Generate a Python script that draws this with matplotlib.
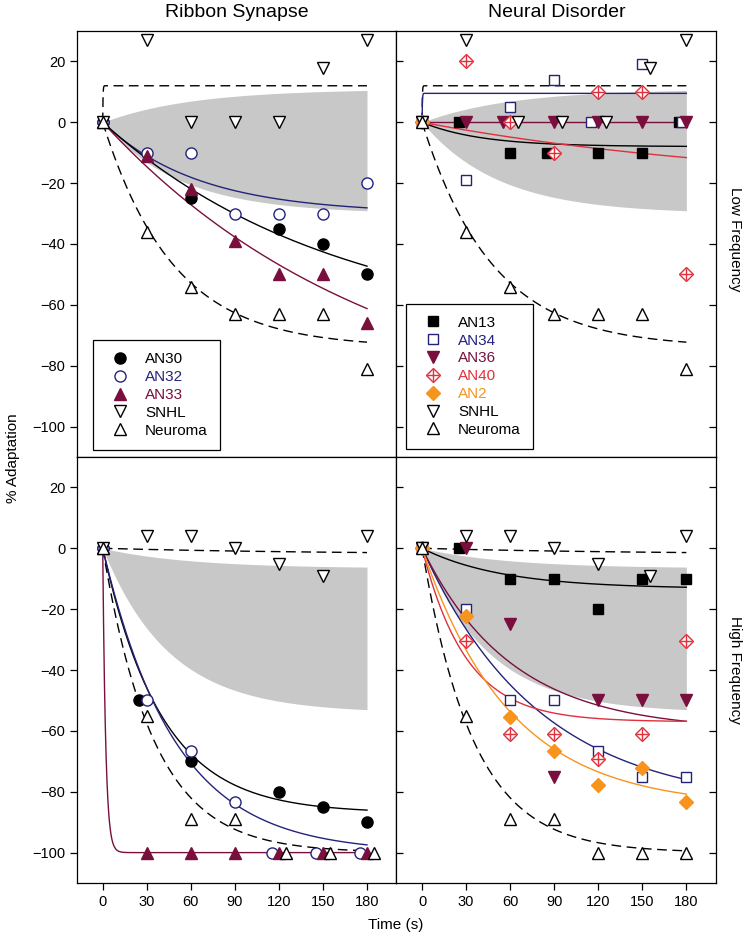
import numpy as np
import matplotlib
matplotlib.use("Agg")
import matplotlib.pyplot as plt
from matplotlib.legend_handler import HandlerTuple

plt.rcParams['font.family'] = ['Liberation Sans', 'DejaVu Sans']

# ---------------------------------------------------------------
# data (time in s as plotted, % adaptation)
# ---------------------------------------------------------------
# Ribbon synapse, low frequency
an30_lo_t = [0, 60, 120, 150, 180]
an30_lo_y = [0, -25, -35, -40, -50]
an32_lo_t = [0, 30, 60, 90, 120, 150, 180]
an32_lo_y = [0, -10, -10, -30, -30, -30, -20]
an33_lo_t = [0, 30, 60, 90, 120, 150, 180]
an33_lo_y = [0, -11, -22, -39, -50, -50, -66]
snhl_lo_l_t = [0, 30, 60, 90, 120, 150, 180]
snhl_lo_y = [0, 27, 0, 0, 0, 18, 27]
neuroma_lo_t = [0, 30, 60, 90, 120, 150, 180]
neuroma_lo_y = [0, -36, -54, -63, -63, -63, -81]

# Neural disorder, low frequency
an13_lo_t = [0, 25, 60, 85, 120, 150, 175]
an13_lo_y = [0, 0, -10, -10, -10, -10, 0]
an34_lo_t = [0, 30, 60, 90, 115, 150, 177]
an34_lo_y = [0, -19, 5, 14, 0, 19, 0]
an36_lo_t = [0, 30, 55, 90, 120, 150, 180]
an36_lo_y = [0, 0, 0, 0, 0, 0, 0]
an40_lo_t = [0, 30, 60, 90, 120, 150, 180]
an40_lo_y = [0, 20, 0, -10, 10, 10, -50]
snhl_lo_r_t = [0, 30, 65, 95, 125, 155, 180]

# Ribbon synapse, high frequency
an30_hi_t = [0, 25, 60, 120, 150, 180]
an30_hi_y = [0, -50, -70, -80, -85, -90]
an32_hi_t = [0, 30, 60, 90, 115, 145, 175]
an32_hi_y = [0, -50, -66.7, -83.3, -100, -100, -100]
an33_hi_t = [0, 30, 60, 90, 120, 150, 180]
an33_hi_y = [0, -100, -100, -100, -100, -100, -100]
snhl_hi_l_t = [0, 30, 60, 90, 120, 150, 180]
snhl_hi_y = [0, 4, 4, 0, -5, -9, 4]
neuroma_hi_l_t = [0, 30, 60, 90, 125, 155, 185]
neuroma_hi_y = [0, -55, -89, -89, -100, -100, -100]

# Neural disorder, high frequency
an13_hi_t = [0, 25, 60, 90, 120, 150, 180]
an13_hi_y = [0, 0, -10, -10, -20, -10, -10]
an34_hi_t = [0, 30, 60, 90, 120, 150, 180]
an34_hi_y = [0, -20, -50, -50, -66.7, -75, -75]
an36_hi_t = [0, 30, 60, 90, 120, 150, 180]
an36_hi_y = [0, 0, -25, -75, -50, -50, -50]
an40_hi_t = [0, 30, 60, 90, 120, 150, 180]
an40_hi_y = [0, -30.6, -61.1, -61.1, -69.4, -61.1, -30.6]
an2_hi_t = [0, 30, 60, 90, 120, 150, 180]
an2_hi_y = [0, -22.2, -55.6, -66.7, -77.8, -72.2, -83.3]
snhl_hi_r_t = [0, 30, 60, 90, 120, 155, 180]
neuroma_hi_r_t = [0, 30, 60, 90, 120, 150, 180]

# exponential fits: (amplitude, time constant)
fit_snhl_lo = (12, 0.2)
fit_neuroma_lo = (-74, 48)
fit_an30_lo = (-70, 160)
fit_an32_lo = (-30, 65)
fit_an33_lo = (-100, 190)
fit_an13_lo = (-8, 40)
fit_an34_lo = (9.5, 0.2)
fit_an36_lo = (0, 10)
fit_an40_lo = (-22, 240)
band_lo = ((11, 60), (-30, 52))

fit_snhl_hi = (-2, 150)
fit_neuroma_hi = (-100, 35)
fit_an30_hi = (-87, 40)
fit_an32_hi = (-100, 49)
fit_an33_hi = (-100, 2)
fit_an13_hi = (-13.3, 55)
fit_an34_hi = (-85, 80)
fit_an36_hi = (-60, 61)
fit_an40_hi = (-57, 30)
fit_an2_hi = (-85, 60)
band_hi = ((-6.5, 60), (-54, 45))

navy = "#23237a"
maroon = "#7a0f3d"
red = "#e0303c"
orange = "#f7941d"
grey = "#c8c8c8"

t_fit = np.unique(np.concatenate([np.linspace(0, 6, 300), np.linspace(6, 180, 400)]))


def expfit(p):
    a, tau = p
    return a * (1 - np.exp(-t_fit / tau))


def fitline(ax, p, color, dashed=False):
    kw = dict(color=color, lw=1.0, zorder=2)
    if dashed:
        kw['dashes'] = (7, 4)
    ax.plot(t_fit, expfit(p), **kw)


def band(ax, b):
    ax.fill_between(t_fit, expfit(b[0]), expfit(b[1]), color=grey, lw=0, zorder=1)


ms = 8
mkw = dict(ls='none', markeredgewidth=1.0, zorder=3)


def circ_fill(ax, t, y):
    return ax.plot(t, y, marker='o', color='black', ms=ms, **mkw)[0]


def circ_open(ax, t, y):
    return ax.plot(t, y, marker='o', mfc='white', mec=navy, ms=ms, **mkw)[0]


def tri_fill(ax, t, y):
    return ax.plot(t, y, marker='^', color=maroon, ms=ms, **mkw)[0]


def snhl(ax, t, y):
    return ax.plot(t, y, marker='v', mfc='white', mec='black', ms=ms + 1, **mkw)[0]


def neuroma(ax, t, y):
    return ax.plot(t, y, marker='^', mfc='white', mec='black', ms=ms + 1, **mkw)[0]


def sq_fill(ax, t, y):
    return ax.plot(t, y, marker='s', color='black', ms=ms - 1, **mkw)[0]


def sq_open(ax, t, y):
    return ax.plot(t, y, marker='s', mfc='white', mec=navy, ms=ms - 1, **mkw)[0]


def vtri_fill(ax, t, y):
    return ax.plot(t, y, marker='v', color=maroon, ms=ms + 1, **mkw)[0]


def xdiamond(ax, t, y):
    d = ax.plot(t, y, marker='D', mfc='white', mec=red, ms=ms - 1, **mkw)[0]
    p = ax.plot(t, y, marker='+', color=red, ms=ms + 1, ls='none', mew=1.0, zorder=3)[0]
    return (d, p)


def diamond(ax, t, y):
    return ax.plot(t, y, marker='D', color=orange, ms=ms - 1, **mkw)[0]


def style_legend(leg, colors):
    leg.get_frame().set_linewidth(0.9)
    for txt, c in zip(leg.get_texts(), colors):
        txt.set_color(c)


legkw = dict(loc='lower left', fontsize=11, fancybox=False, edgecolor='black',
             framealpha=1, borderpad=0.8, handlelength=2.0, handletextpad=0.6,
             labelspacing=0.25, borderaxespad=0,
             handler_map={tuple: HandlerTuple(ndivide=1, pad=0)})

fig, axes = plt.subplots(2, 2, figsize=(7.5, 9.39), dpi=100)
fig.subplots_adjust(left=0.1027, right=0.9543, top=0.967, bottom=0.0596, wspace=0, hspace=0)
ax_ll, ax_rl = axes[0]
ax_lh, ax_rh = axes[1]

# ---- top left
band(ax_ll, band_lo)
fitline(ax_ll, fit_snhl_lo, 'black', True)
fitline(ax_ll, fit_neuroma_lo, 'black', True)
fitline(ax_ll, fit_an32_lo, navy)
fitline(ax_ll, fit_an30_lo, 'black')
fitline(ax_ll, fit_an33_lo, maroon)
h1 = circ_fill(ax_ll, an30_lo_t, an30_lo_y)
h2 = circ_open(ax_ll, an32_lo_t, an32_lo_y)
h3 = tri_fill(ax_ll, an33_lo_t, an33_lo_y)
h4 = snhl(ax_ll, snhl_lo_l_t, snhl_lo_y)
h5 = neuroma(ax_ll, neuroma_lo_t, neuroma_lo_y)
leg = ax_ll.legend([h1, h2, h3, h4, h5], ['AN30', 'AN32', 'AN33', 'SNHL', 'Neuroma'],
                   bbox_to_anchor=(0.05, 0.017), **legkw)
style_legend(leg, ['black', navy, maroon, 'black', 'black'])

# ---- top right
band(ax_rl, band_lo)
fitline(ax_rl, fit_snhl_lo, 'black', True)
fitline(ax_rl, fit_neuroma_lo, 'black', True)
fitline(ax_rl, fit_an34_lo, navy)
fitline(ax_rl, fit_an13_lo, 'black')
fitline(ax_rl, fit_an40_lo, red)
fitline(ax_rl, fit_an36_lo, maroon)
g1 = sq_fill(ax_rl, an13_lo_t, an13_lo_y)
g2 = sq_open(ax_rl, an34_lo_t, an34_lo_y)
g3 = vtri_fill(ax_rl, an36_lo_t, an36_lo_y)
g4 = xdiamond(ax_rl, an40_lo_t, an40_lo_y)
g5 = diamond(ax_rl, [0], [0])
g6 = snhl(ax_rl, snhl_lo_r_t, snhl_lo_y)
g7 = neuroma(ax_rl, neuroma_lo_t, neuroma_lo_y)
leg = ax_rl.legend([g1, g2, g3, g4, g5, g6, g7],
                   ['AN13', 'AN34', 'AN36', 'AN40', 'AN2', 'SNHL', 'Neuroma'],
                   bbox_to_anchor=(0.03, 0.019), **legkw)
style_legend(leg, ['black', navy, maroon, red, orange, 'black', 'black'])

# ---- bottom left
band(ax_lh, band_hi)
fitline(ax_lh, fit_snhl_hi, 'black', True)
fitline(ax_lh, fit_neuroma_hi, 'black', True)
fitline(ax_lh, fit_an30_hi, 'black')
fitline(ax_lh, fit_an32_hi, navy)
fitline(ax_lh, fit_an33_hi, maroon)
circ_fill(ax_lh, an30_hi_t, an30_hi_y)
circ_open(ax_lh, an32_hi_t, an32_hi_y)
tri_fill(ax_lh, an33_hi_t, an33_hi_y)
snhl(ax_lh, snhl_hi_l_t, snhl_hi_y)
neuroma(ax_lh, neuroma_hi_l_t, neuroma_hi_y)

# ---- bottom right
band(ax_rh, band_hi)
fitline(ax_rh, fit_snhl_hi, 'black', True)
fitline(ax_rh, fit_neuroma_hi, 'black', True)
fitline(ax_rh, fit_an13_hi, 'black')
fitline(ax_rh, fit_an34_hi, navy)
fitline(ax_rh, fit_an36_hi, maroon)
fitline(ax_rh, fit_an40_hi, red)
fitline(ax_rh, fit_an2_hi, orange)
sq_fill(ax_rh, an13_hi_t, an13_hi_y)
sq_open(ax_rh, an34_hi_t, an34_hi_y)
vtri_fill(ax_rh, an36_hi_t, an36_hi_y)
xdiamond(ax_rh, an40_hi_t, an40_hi_y)
diamond(ax_rh, an2_hi_t, an2_hi_y)
snhl(ax_rh, snhl_hi_r_t, snhl_hi_y)
neuroma(ax_rh, neuroma_hi_r_t, neuroma_hi_y)

# ---- axes styling
for ax in axes.flat:
    ax.set_xlim(-17.5, 200)
    ax.set_ylim(-110, 30)
    ax.set_xticks([0, 30, 60, 90, 120, 150, 180])
    ax.set_yticks([20, 0, -20, -40, -60, -80, -100])
    ax.tick_params(labelsize=10.5, length=5, width=0.9)
    for s in ax.spines.values():
        s.set_linewidth(0.9)

for ax in axes[0]:
    ax.tick_params(axis='x', labelbottom=False, direction='out')
for ax in axes[1]:
    ax.tick_params(axis='x', direction='out')

for ax in axes[:, 0]:
    ax.tick_params(axis='y', direction='out', left=True, right=True)
for ax in axes[:, 1]:
    ax.tick_params(axis='y', direction='in', left=True, right=True, labelleft=False)

fig.text(0.316, 0.987, 'Ribbon Synapse', ha='center', va='center', fontsize=14)
fig.text(0.742, 0.987, 'Neural Disorder', ha='center', va='center', fontsize=14)
fig.text(0.98, 0.745, 'Low Frequency', ha='center', va='center', rotation=-90, fontsize=11)
fig.text(0.98, 0.287, 'High Frequency', ha='center', va='center', rotation=-90, fontsize=11)
fig.text(0.018, 0.512, '% Adaptation', ha='center', va='center', rotation=90, fontsize=11)
fig.text(0.528, 0.015, 'Time (s)', ha='center', va='center', fontsize=11)

fig.savefig('out.png', dpi=100)
